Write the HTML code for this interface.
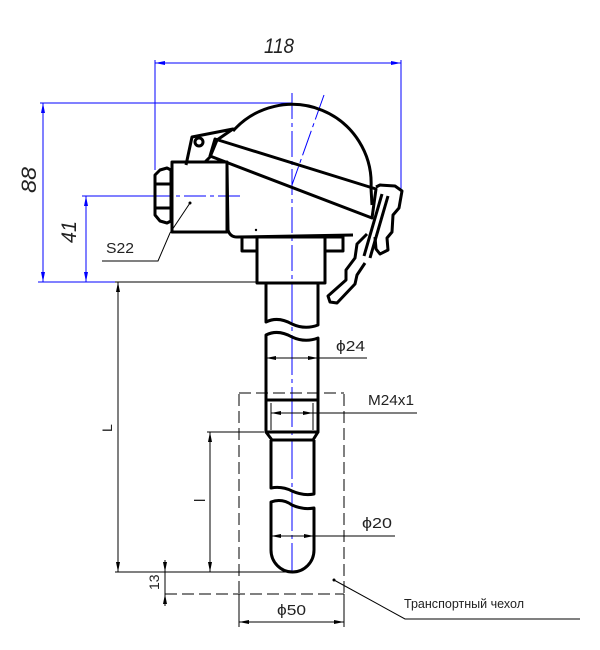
<!DOCTYPE html>
<html><head><meta charset="utf-8"><style>
html,body{margin:0;padding:0;background:#fff;width:600px;height:650px;overflow:hidden}
svg{display:block}
text{font-family:"Liberation Sans",sans-serif;fill:#222}
</style></head><body>
<svg width="600" height="650" viewBox="0 0 600 650" xmlns="http://www.w3.org/2000/svg">
<g stroke="#0000ff" stroke-width="1" fill="none">
  <line x1="155" y1="63" x2="401" y2="63"/>
  <line x1="155" y1="60" x2="155" y2="170"/>
  <line x1="401" y1="60" x2="401" y2="190"/>
  <line x1="40" y1="103" x2="292" y2="103"/>
  <line x1="43" y1="103" x2="43" y2="282"/>
  <line x1="38" y1="282" x2="262" y2="282"/>
  <line x1="82" y1="196" x2="150" y2="196"/>
  <line x1="86" y1="196" x2="86" y2="282"/>
  <line x1="150" y1="196" x2="240" y2="196" stroke-dasharray="22,4,4,4"/>
  <line x1="292" y1="93" x2="292" y2="290" stroke-dasharray="26,4,4,4"/>
  <line x1="292" y1="283" x2="292" y2="572" stroke-dasharray="40,4,4,4"/>
  <line x1="324" y1="95" x2="292" y2="185" stroke-dasharray="26,4,4,4"/>
</g>
<g fill="#0000ff">
  <polygon points="155,63 165,61 165,65"/>
  <polygon points="401,63 391,61 391,65"/>
  <polygon points="43,103 41,113 45,113"/>
  <polygon points="43,282 41,272 45,272"/>
  <polygon points="86,196 84,206 88,206"/>
  <polygon points="86,282 84,272 88,272"/>
</g>
<g font-style="italic" font-size="21">
  <text x="264" y="53" textLength="30" lengthAdjust="spacingAndGlyphs">118</text>
  <text transform="translate(36,193) rotate(-90)" textLength="26" lengthAdjust="spacingAndGlyphs">88</text>
  <text transform="translate(76,243) rotate(-90)" textLength="22" lengthAdjust="spacingAndGlyphs">41</text>
</g>
<g stroke="#000" stroke-width="3" fill="none" stroke-linejoin="round">
  <path d="M233,131 A79,79 0 0 1 371,188"/>
  <line x1="371" y1="188" x2="372" y2="205"/>
  <polygon points="215,139 376,189 372,218 210,156"/>
  <path d="M186,165 L192,137 L233,129 L217,140 L210,157 L205,162"/>
  <circle cx="199" cy="142" r="4"/>
  <rect x="172" y="162" width="55" height="70"/>
  <path d="M160,170 L167,168 L171,170 L171,221 L167,223 L160,221 L155,215 L155,175 Z"/>
  <line x1="155" y1="184" x2="171" y2="184"/>
  <line x1="155" y1="208" x2="171" y2="208"/>
  <path d="M227,165 L228,230 Q230,237 237,237 L353,235"/>
  <path d="M376,187 L380,185 L395,186 L402,191 L399,208 L393,215 L392,232 L387,238 L388,250 L380,254 L376,249 L375,237"/>
  <line x1="388" y1="196" x2="370" y2="258"/>
  <line x1="382" y1="194" x2="364" y2="256"/>
  <path d="M367,234 L357,244 L355,258 L346,270 L346,280 L328,296 L330,302 L337,303 L355,284 L357,275 L365,263"/>
  <rect x="242" y="237" width="15" height="14"/>
  <rect x="325" y="237" width="18" height="14"/>
  <rect x="257" y="237" width="68" height="46"/>
  <path d="M266,283 L266,322 Q278,316 292,324 Q305,330 318,325 L318,283"/>
  <path d="M266,400 L266,335 Q278,329 292,337 Q305,343 318,338 L318,400"/>
  <rect x="266" y="400" width="52" height="32"/>
  <path d="M266,432 L272,440 L313,440 L318,432"/>
  <path d="M271,440 L271,488 Q282,486 292,491 Q303,496 314,494 L314,440"/>
  <path d="M271,502 Q282,498 292,505 Q303,510 314,508 L314,550 A21.5,22 0 0 1 271,550 Z"/>
</g>
<g stroke="#000" stroke-width="1" fill="none">
  <line x1="271" y1="403" x2="271" y2="430"/>
  <line x1="313" y1="403" x2="313" y2="430"/>
  <line x1="266" y1="358" x2="367" y2="358"/>
  <line x1="271" y1="413" x2="417" y2="413"/>
  <line x1="271" y1="536" x2="395" y2="536"/>
  <path d="M239,394 L239,594 M344,394 L344,594 M239,393 L344,393 M165,594 L344,594" stroke-dasharray="12,5"/>
  <line x1="115" y1="282" x2="262" y2="282"/>
  <line x1="118" y1="282" x2="118" y2="572"/>
  <line x1="115" y1="572" x2="292" y2="572"/>
  <line x1="207" y1="432" x2="264" y2="432"/>
  <line x1="210" y1="432" x2="210" y2="572"/>
  <line x1="165" y1="560" x2="165" y2="606"/>
  <line x1="239" y1="594" x2="239" y2="627"/>
  <line x1="344" y1="594" x2="344" y2="627"/>
  <line x1="239" y1="622" x2="344" y2="622"/>
  <polyline points="190,203 170,233 158,261 102,261"/>
  <polyline points="334,580 405,619 580,619"/>
</g>
<g fill="#000">
  <polygon points="118,282 116,292 120,292"/>
  <polygon points="118,572 116,562 120,562"/>
  <polygon points="210,432 208,442 212,442"/>
  <polygon points="210,572 208,562 212,562"/>
  <polygon points="165,572 163,562 167,562"/>
  <polygon points="165,594 163,604 167,604"/>
  <polygon points="239,622 249,620 249,624"/>
  <polygon points="344,622 334,620 334,624"/>
  <polygon points="266,358 276,356 276,360"/>
  <polygon points="318,358 308,356 308,360"/>
  <polygon points="271,413 281,411 281,415"/>
  <polygon points="313,413 303,411 303,415"/>
  <polygon points="271,536 281,534 281,538"/>
  <polygon points="314,536 304,534 304,538"/>
  <circle cx="190" cy="203" r="1.5"/>
  <circle cx="334" cy="580" r="1.5"/>
  <circle cx="256" cy="230" r="1.2"/>
</g>
<g font-size="15">
  <text x="106" y="253" textLength="28" lengthAdjust="spacingAndGlyphs">S22</text>
  <text x="336" y="351" textLength="29" lengthAdjust="spacingAndGlyphs">ϕ24</text>
  <text x="368" y="405" textLength="46" lengthAdjust="spacingAndGlyphs">M24x1</text>
  <text x="362" y="528" textLength="30" lengthAdjust="spacingAndGlyphs">ϕ20</text>
  <text x="277" y="615" textLength="29" lengthAdjust="spacingAndGlyphs">ϕ50</text>
  <text transform="translate(112,432) rotate(-90)" font-size="14">L</text>
  <text transform="translate(205,502) rotate(-90)" font-size="15">l</text>
  <text transform="translate(159,590) rotate(-90)" font-size="14">13</text>
</g>
<text x="404" y="608" font-size="13" textLength="120" lengthAdjust="spacingAndGlyphs">Транспортный чехол</text>
</svg>
</body></html>
